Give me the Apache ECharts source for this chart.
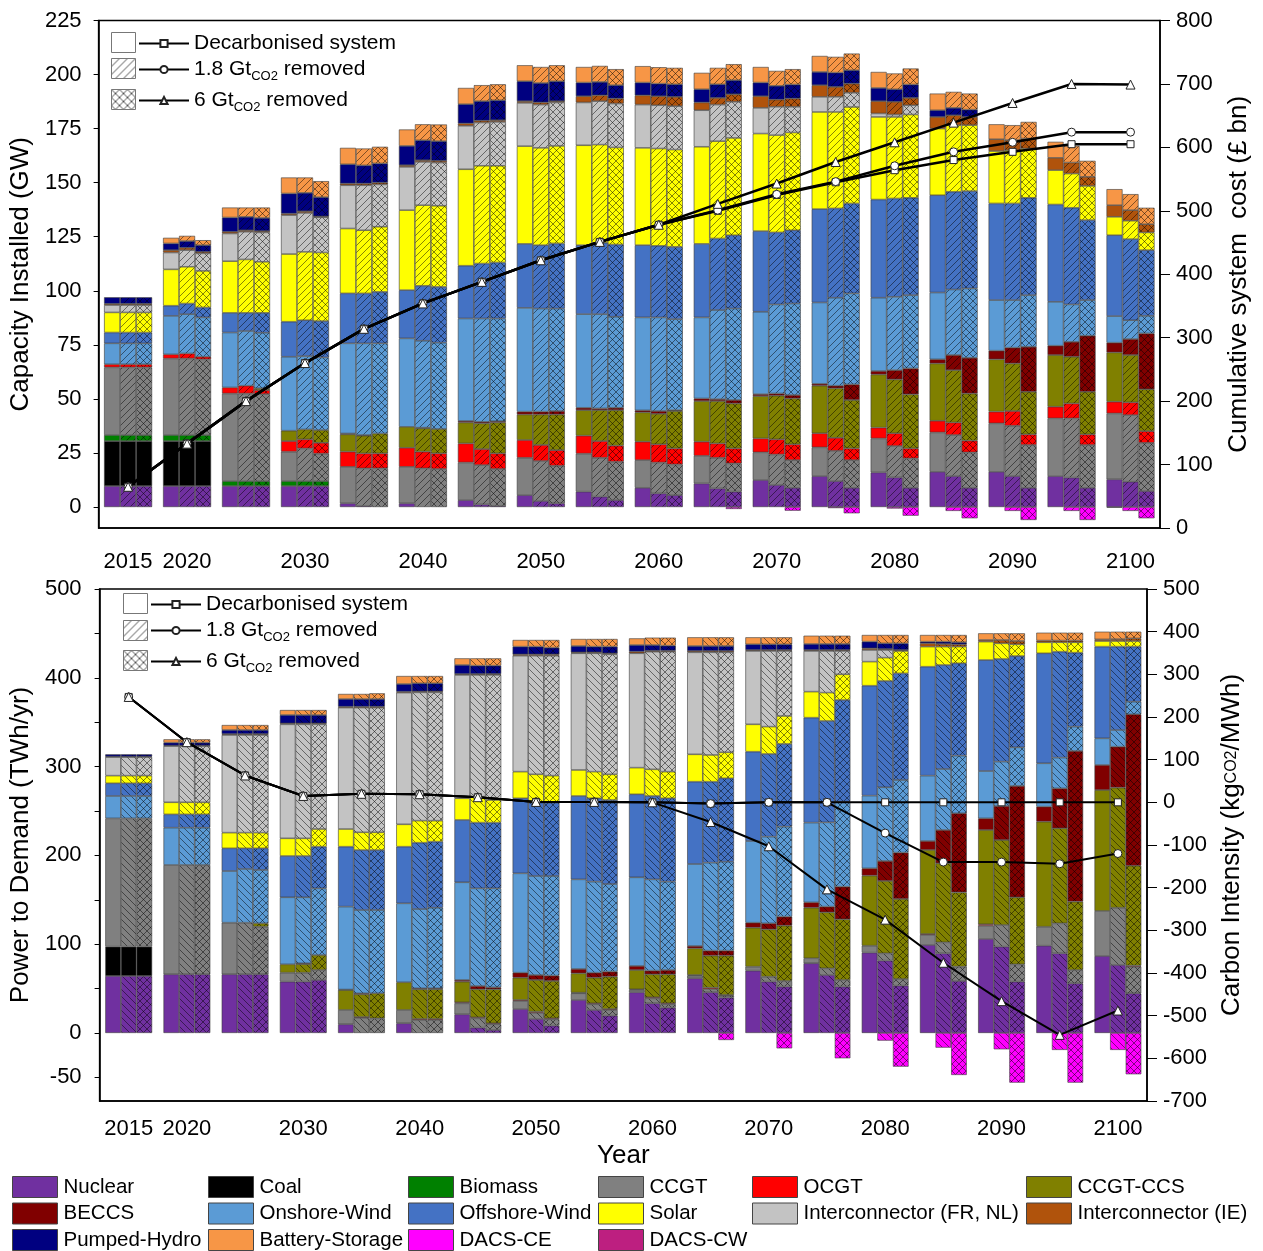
<!DOCTYPE html>
<html>
<head>
<meta charset="utf-8">
<script src="https://cdn.jsdelivr.net/npm/echarts@6/dist/echarts.min.js"></script>
<style>
  html, body { margin: 0; padding: 0; background: #fff; }
  #chart { width: 1263px; height: 1251px; }
</style>
</head>
<body>
<div id="chart"></div>
<script>
var years = ['2015', '2020', '2025', '2030', '2035', '2040', '2045', '2050', '2055', '2060',
  '2065', '2070', '2075', '2080', '2085', '2090', '2095', '2100'];
var techs = ['Nuclear', 'Coal', 'Biomass', 'CCGT', 'OCGT', 'CCGT-CCS', 'BECCS', 'Onshore-Wind',
  'Offshore-Wind', 'Solar', 'Interconnector (FR, NL)', 'Interconnector (IE)', 'Pumped-Hydro',
  'Battery-Storage', 'DACS-CE', 'DACS-CW'];
var colors = ['#7030A0', '#000000', '#008000', '#808080', '#FF0000', '#808000', '#800000', '#5B9BD5',
  '#4472C4', '#FFFF00', '#C3C3C3', '#B0530C', '#000080', '#F79646', '#FF00FF', '#BD1F80'];
var scenarios = ['Decarbonised system', '1.8 GtCO2 removed', '6 GtCO2 removed'];

// tick labels
var capTicks = [0, 25, 50, 75, 100, 125, 150, 175, 200, 225];
var powLabels = [-50, 0, 100, 200, 300, 400, 500];
var powTicks = [-50, 0, 50, 100, 150, 200, 250, 300, 350, 400, 450, 500];

// installed capacity (GW); rows: decarbonised, 1.8 Gt, 6 Gt
var capNuclear = [
  [9.7, 9.7, 9.7, 9.7, 1.7, 1.7, 3.2, 5.5, 7.1, 8.9, 10.9, 12.5, 14.3, 16, 16.3, 16.3, 14.3, 12.8],
  [9.7, 9.7, 9.7, 9.7, 0.5, 0, 1.2, 2.8, 4.8, 6.3, 8.6, 10.2, 12, 13.7, 14.3, 14.3, 13.6, 11.7],
  [9.7, 9.7, 9.7, 9.7, 0, 0, 0.5, 1.7, 3.2, 5.5, 7.1, 8.9, 8.9, 8.9, 8.9, 8.9, 8.9, 7.4]];
var capCoal = [
  [20.8, 20.8, 0, 0, 0, 0, 0, 0, 0, 0, 0, 0, 0, 0, 0, 0, 0, 0],
  [20.8, 20.8, 0, 0, 0, 0, 0, 0, 0, 0, 0, 0, 0, 0, 0, 0, 0, 0],
  [20.8, 20.8, 0, 0, 0, 0, 0, 0, 0, 0, 0, 0, 0, 0, 0, 0, 0, 0]];
var capBiomass = [
  [2.8, 2.8, 2.3, 2.3, 0, 0, 0, 0, 0, 0, 0, 0, 0, 0, 0, 0, 0, 0],
  [2.8, 2.8, 2.3, 2.3, 0, 0, 0, 0, 0, 0, 0, 0, 0, 0, 0, 0, 0, 0],
  [2.8, 2.8, 2.3, 2.3, 0, 0, 0, 0, 0, 0, 0, 0, 0, 0, 0, 0, 0, 0]];
var capCCGT = [
  [31.3, 35.4, 40.5, 13.6, 16.9, 16.9, 17.4, 17.3, 17.6, 12.8, 12.8, 12.8, 13.3, 15.7, 18.2, 22.4, 26.7, 30.5],
  [31.3, 35.4, 40.5, 15.1, 17.4, 17.9, 18.2, 18.5, 18, 14.3, 14.2, 14.1, 14, 14.5, 19, 23.3, 27.4, 30.8],
  [31.3, 35, 40.2, 12.7, 17.9, 17.6, 17.1, 17.4, 17.8, 14.2, 13.1, 12.8, 12.8, 13.6, 16.4, 19.8, 19.8, 22.3]];
var capOCGT = [
  [1.4, 1.9, 2.8, 4.9, 7, 8.8, 8.8, 8.2, 8.3, 8.5, 6.5, 6.4, 6.5, 5, 5.4, 5.4, 5.4, 5.4],
  [1.4, 2.3, 3.6, 4.2, 6.9, 7.7, 7.4, 7.4, 7.7, 8.4, 6.6, 7, 6, 5.9, 5.8, 6.8, 6.9, 5.9],
  [1.4, 1.2, 1.9, 5, 6.9, 7.2, 7.2, 7.2, 7.4, 7.4, 6.9, 7.3, 5.4, 4.6, 5.4, 4.9, 4.9, 5.4]];
var capCCS = [
  [0, 0, 0, 4.8, 8, 9.7, 9.7, 11.8, 11.8, 13.6, 18.8, 19.6, 22, 24.6, 26.5, 24.2, 23.9, 22.8],
  [0, 0, 0, 4.6, 8.2, 10.8, 11.9, 14.1, 14.3, 14.1, 19.6, 20.2, 22.9, 24.9, 24.2, 22, 21.6, 21.9],
  [0, 0, 0.8, 5.9, 9.2, 11.3, 14.3, 16.5, 16.4, 17.3, 20.8, 21.2, 22.4, 25, 21.8, 19.7, 19.7, 19.4]];
var capBECCS = [
  [0, 0, 0, 0, 0.4, 0, 0.7, 1.3, 1.1, 0.9, 1.2, 0.9, 0.9, 1.6, 1.9, 4, 4.3, 4.5],
  [0, 0, 0, 0, 0.3, 0.3, 0.7, 1.3, 0.8, 1.3, 0.9, 1, 1.2, 4.3, 7, 7.3, 6.9, 7.4],
  [0, 0, 0, 0, 0, 0, 0.6, 1.6, 1.1, 0.4, 1.6, 1.6, 7.2, 12, 16.5, 20.8, 25.9, 25.8]];
var capOnshore = [
  [9.7, 17.8, 25.4, 34.2, 41.7, 40.9, 47.4, 48, 43.3, 43, 37.5, 38.1, 37.6, 33.9, 30.9, 23.4, 20.3, 12.3],
  [9.7, 18.2, 25.3, 33.9, 42.4, 40.2, 47.8, 47.7, 43.6, 43.3, 41.2, 41.2, 40.7, 33.9, 30.3, 22, 17.3, 8.7],
  [9.7, 18.2, 25.7, 33.6, 41.7, 39.9, 47.5, 47.4, 42.1, 42.1, 42.3, 42.3, 42.1, 33.9, 32.1, 23.9, 16.5, 8.1]];
var capOffshore = [
  [5, 4.7, 9.1, 16.2, 23.1, 22.3, 24.4, 29.6, 31.9, 33.4, 34, 37.3, 43.2, 45.4, 45, 44.7, 45, 37.4],
  [5, 4.9, 8.4, 16.6, 23.1, 25.4, 25.4, 29.3, 33, 33.1, 33.1, 33.3, 41.3, 45.5, 45.2, 44.7, 44.7, 37.5],
  [5, 4.6, 9.2, 16.8, 23.8, 25.8, 25.9, 30.1, 33.4, 33.4, 33.9, 33.9, 41.6, 45, 45, 45, 37, 30.4]];
var capSolar = [
  [9.3, 16.8, 23.9, 31.3, 30, 37, 44.6, 45.2, 46.2, 45, 44.9, 45.1, 44.9, 38.2, 30.8, 24.2, 15.9, 8.5],
  [9.3, 17, 24.7, 31.6, 29.2, 37.3, 45.2, 45, 45.4, 45, 45, 45, 44.6, 37.7, 30.8, 24.6, 15.8, 8.5],
  [9.3, 16.9, 23.6, 31.7, 30.1, 37.5, 44.7, 45.1, 44.9, 45, 45, 45.2, 44.6, 38.5, 30.5, 22.8, 15.8, 8.2]];
var capIntFRNL = [
  [3.4, 7.8, 12.8, 18, 20, 20, 20.1, 20, 19.8, 20, 16.9, 11.9, 7, 1.6, 0, 0, 0, 0],
  [3.4, 7.7, 12.8, 18, 20.8, 20, 20, 20, 20.1, 20, 16.9, 13.1, 7, 1.1, 0, 0, 0, 0],
  [3.4, 8.1, 13.6, 16.3, 19.6, 20, 20.3, 20.1, 20.3, 20.1, 16.7, 11.9, 6.6, 4.3, 0, 0, 0, 0]];
var capIntIE = [
  [0.6, 1.1, 0.8, 0.7, 0.8, 0.8, 1.1, 0.8, 2.9, 4.3, 3.6, 5.4, 5.4, 5.7, 5.4, 5.5, 5.7, 5.4],
  [0.6, 1.1, 0.7, 0.8, 0.8, 0.8, 0.9, 1, 2.7, 4.2, 3.1, 3.3, 4.6, 5.9, 4.6, 4.7, 5.1, 4.9],
  [0.6, 0.7, 0.6, 0.4, 0.8, 0.8, 0.8, 0.6, 2.3, 4.3, 3.5, 3.8, 4.2, 3.4, 3.8, 4.6, 4.2, 3.8]];
var capPumped = [
  [3, 3.1, 6.6, 9.3, 8.9, 8.9, 8.9, 9.2, 6.3, 5.9, 6.1, 6.3, 6.1, 6.1, 3.1, 0, 0, 0],
  [3, 3.1, 6.2, 8.5, 8.4, 9.2, 9, 9, 6.2, 5.8, 6.3, 6.4, 6.6, 5.8, 3.4, 0, 0, 0],
  [3, 3.1, 6.1, 8.9, 8.9, 9.1, 9.2, 9.2, 6.2, 5.8, 6.5, 6.5, 6.2, 6.2, 3.4, 0, 0, 0]];
var capBattery = [
  [0, 2.6, 4.6, 7.4, 7.6, 7.6, 7.5, 7.4, 7.2, 7.6, 7.6, 7.2, 7.4, 7.4, 7.7, 6.9, 7.4, 7.4],
  [0, 2.4, 4.3, 7.1, 7.8, 7.4, 7.4, 7.4, 7.4, 7.6, 7.6, 6.9, 7.3, 7.3, 7.4, 6.9, 7.7, 7.4],
  [0, 2.3, 4.8, 7.4, 7.7, 7.7, 7.4, 7.4, 7.4, 7.6, 7.4, 7.1, 7.7, 7.4, 7.4, 7.7, 7.4, 7.6]];
var capDACSCE = [
  [0, 0, 0, 0, 0, 0, 0, 0, 0, 0, 0, 0, 0, 0, 0, 0, 0, -0.3],
  [0, 0, 0, 0, 0, 0, 0, 0, 0, 0, 0, 0, -0.5, -0.7, -1.8, -1.8, -1.8, -1.8],
  [0, 0, 0, 0, 0, 0, 0, 0, 0, 0, -0.9, -1.7, -2.9, -4, -5.2, -6, -6, -5.2]];
var capDACSCW = [
  [0, 0, 0, 0, 0, 0, 0, 0, 0, 0, 0, 0, 0, 0, 0, 0, 0, 0],
  [0, 0, 0, 0, 0, 0, 0, 0, 0, 0, 0, 0, 0, 0, 0, 0, 0, 0],
  [0, 0, 0, 0, 0, 0, 0, 0, 0, 0, 0, 0, 0, 0, 0, 0, 0, 0]];

// cumulative system cost (£ bn)
var costDecarb = [65, 133, 200, 260, 314, 354, 388, 422, 451, 478, 500, 525, 545, 564, 580, 593, 605, 605];
var cost18 = [65, 133, 200, 260, 314, 354, 388, 422, 451, 478, 501, 526, 546, 571, 593, 608, 624, 624];
var cost6 = [65, 133, 200, 260, 314, 354, 388, 422, 451, 478, 511, 543, 577, 608, 639, 670, 700, 699];

// power to demand (TWh/yr); rows: decarbonised, 1.8 Gt, 6 Gt
var powNuclear = [
  [64.2, 66.1, 66.1, 57.8, 9.8, 10.9, 21, 27, 37.2, 45.8, 61.6, 70.2, 78.5, 90.5, 99.1, 105.9, 98.3, 86.7],
  [64.2, 66.1, 66.1, 57.8, 0, 0, 6, 15.8, 25.9, 33.4, 45.8, 57.8, 65.3, 81.5, 89.7, 97.2, 89.7, 76.6],
  [64.2, 66.1, 66.1, 59.7, 0, 0, 3.4, 8.3, 19.5, 28.5, 39.8, 52.2, 52.2, 53.3, 58.6, 57.8, 55.9, 44.7]];
var powCoal = [
  [33, 0, 0, 0, 0, 0, 0, 0, 0, 0, 0, 0, 0, 0, 0, 0, 0, 0],
  [33, 0, 0, 0, 0, 0, 0, 0, 0, 0, 0, 0, 0, 0, 0, 0, 0, 0],
  [33, 0, 0, 0, 0, 0, 0, 0, 0, 0, 0, 0, 0, 0, 0, 0, 0, 0]];
var powBiomass = [
  [0, 0, 0, 0, 0, 0, 0, 0, 0, 0, 0, 0, 0, 0, 0, 0, 0, 0],
  [0, 0, 0, 0, 0, 0, 0, 0, 0, 0, 0, 0, 0, 0, 0, 0, 0, 0],
  [0, 0, 0, 0, 0, 0, 0, 0, 0, 0, 0, 0, 0, 0, 0, 0, 0, 0]];
var powCCGT = [
  [144.5, 123.1, 58.1, 10.1, 16.1, 15, 12.4, 9, 7.5, 2.6, 3, 4.5, 5.6, 7.8, 11.3, 15, 21.4, 50.7],
  [144.5, 123.1, 58.1, 10.1, 17, 14.6, 10.5, 7.1, 6.4, 5.6, 3.7, 5.6, 7.5, 8.2, 12.4, 24.4, 33.8, 64.5],
  [144.5, 123.1, 53.6, 11.2, 16.5, 14.6, 6.4, 7.1, 6.4, 3.8, 2.2, 6.4, 7.5, 7.5, 16.1, 19.5, 15, 30]];
var powOCGT = [
  [0, 0, 0, 0, 0, 0, 1.1, 1.2, 0.7, 0.8, 0.7, 0, 0, 0, 1.1, 1.5, 0, 0],
  [0, 0, 0, 0, 1, 1.2, 1.1, 1.1, 1.1, 1.2, 1.5, 0, 0, 0, 0, 0, 0, 0],
  [0, 0, 0, 0, 0, 1.2, 1.1, 1.1, 1.1, 1.1, 0.8, 0, 0, 0, 0, 0, 0, 1.1]];
var powCCS = [
  [0, 0, 0, 9.4, 22.5, 31.2, 23.3, 25.1, 21.8, 21.7, 30, 43.9, 57, 78.9, 94.6, 106.2, 118.3, 136.2],
  [0, 0, 0, 9.6, 25.5, 33.4, 31.6, 35.7, 28.9, 25.9, 36.1, 53.3, 63.1, 81.5, 89, 95.7, 107, 135.2],
  [0, 0, 3.8, 16.9, 28.2, 33.4, 38.3, 42.1, 36.4, 32.7, 44.3, 62.3, 68.3, 90.1, 83.7, 75.5, 77, 112.6]];
var powBECCS = [
  [0, 0, 0, 0, 0.5, 0, 1.9, 5.6, 4.9, 4.6, 2.7, 5.6, 6, 8.2, 10.1, 13.1, 16.9, 28.2],
  [0, 0, 0, 1, 1.1, 1.1, 3.7, 5.6, 5.6, 4.1, 5.6, 6.8, 6.4, 22.5, 37.5, 38.3, 45, 46.1],
  [0, 0, 0, 0, 0, 1.1, 2.2, 6, 5.7, 4.8, 5.6, 10.1, 36.8, 52.2, 89, 125.4, 169.7, 170.5]];
var powOnshore = [
  [25.2, 42, 58.2, 75.5, 93.4, 88.9, 110, 111.9, 100.9, 99.8, 92.3, 92, 89.8, 81.9, 73.6, 53.3, 48.8, 30],
  [25.2, 42, 60.5, 74.3, 93.9, 89.3, 110, 111.5, 102.5, 102.8, 99.1, 97.6, 94.9, 83, 68.7, 50, 34.6, 18.8],
  [25.2, 42, 60.1, 75.1, 93.8, 90.8, 111.5, 112.2, 98.7, 99.5, 100.2, 101.4, 95.7, 81.8, 64.9, 43.5, 27.4, 14.2]];
var powOffshore = [
  [14.3, 15, 25.6, 46.5, 67.5, 63.8, 70.2, 84.5, 93.9, 93.5, 92.7, 100.6, 118.2, 123.8, 122.7, 125, 123.9, 103.3],
  [14.3, 15, 23.3, 46.5, 67.5, 74.7, 74, 82.6, 93.9, 93.9, 91.2, 93.1, 114.2, 119.7, 117.1, 115.6, 119.3, 93.9],
  [14.3, 15, 24.4, 46.9, 67.5, 74.4, 74, 82.6, 94.6, 93.9, 93.9, 93.1, 114.5, 120.1, 104, 102.8, 83.3, 62]];
var powSolar = [
  [8.6, 13.6, 17.6, 19.9, 19.9, 25.2, 24.4, 30, 29.3, 30, 30.8, 30.8, 29.3, 27.1, 22.6, 20.7, 12.4, 6.3],
  [8.6, 13.6, 17.6, 19.9, 20, 24.8, 29.3, 31.9, 30, 30, 30.1, 30.8, 31.9, 26.3, 20.7, 17.6, 10.6, 6.3],
  [8.6, 13.6, 17.6, 19.9, 20, 23.6, 25.5, 30.4, 28.9, 30, 29.3, 31.5, 28.9, 25.2, 18.8, 13.2, 11.7, 6.3]];
var powIntFRNL = [
  [21, 63.4, 110, 128.4, 136.7, 148.3, 138.9, 130.6, 131.4, 128.8, 114.9, 82.6, 45.8, 13.1, 0, 0, 0, 0],
  [21, 63.4, 110, 128.4, 140.4, 144.5, 137, 133.6, 133.3, 132.5, 115.6, 85.2, 46.9, 8.6, 0, 0, 0, 0],
  [21, 63.4, 110, 117.9, 140.4, 144.5, 140.8, 135.1, 135.1, 135.1, 112.6, 73.2, 26.3, 0, 0, 0, 0, 0]];
var powIntIE = [
  [0.5, 0.5, 1.1, 1.1, 1.1, 1.1, 1.1, 1.5, 1.1, 1.9, 1.5, 1.1, 1.1, 1.9, 3.7, 1.9, 1.9, 1.9],
  [0.5, 0.5, 1.1, 1.1, 1.1, 1.1, 1.1, 1.5, 1.1, 1.1, 1.5, 1.1, 1.1, 1.1, 3, 3.8, 1.9, 2.2],
  [0.5, 0.5, 1.1, 1.1, 1.1, 1.1, 1.1, 1.5, 1.1, 1.1, 1.5, 1.1, 1.1, 1.1, 2.5, 3.8, 1.9, 3]];
var powPumped = [
  [2.5, 3.3, 4.5, 9.4, 8.6, 8.6, 10.1, 8.7, 7.1, 7.4, 5.6, 6.4, 6.8, 7.5, 1.9, 0, 0, 0],
  [2.5, 3.3, 4.5, 9.4, 8.6, 9.1, 9.4, 8.7, 6.4, 6.4, 5.6, 6.4, 6.8, 6.4, 2.6, 0, 0, 0],
  [2.5, 3.3, 4.5, 9.4, 8.6, 9.1, 9.4, 7.5, 7.6, 5.7, 5.6, 6.4, 6.8, 7.5, 2.4, 0, 0, 0]];
var powBattery = [
  [0, 3.7, 5.6, 5.6, 5.7, 9, 7.5, 7.5, 7.9, 7.5, 9.8, 7.9, 9.3, 7.5, 7.5, 7.5, 8.9, 8.6],
  [0, 3.7, 5.6, 5.6, 5.7, 8.2, 8.2, 7.5, 8.6, 8.3, 9.8, 7.9, 9.3, 9.4, 7.5, 7.5, 8.9, 8.3],
  [0, 3.7, 5.6, 5.6, 6.4, 8.2, 8.2, 8.7, 8.6, 9, 9.8, 7.9, 9.3, 9.4, 8.2, 8.6, 8.9, 7.5]];
var powDACSCE = [
  [0, 0, 0, 0, 0, 0, 0, 0, 0, 0, 0, 0, 0, 0, 0, 0, 0, 0],
  [0, 0, 0, 0, 0, 0, 0, 0, 0, 0, 0, 0, 0, -8.6, -16.5, -18.4, -19.1, -19.1],
  [0, 0, 0, 0, 0, 0, 0, 0, 0, 0, -7.9, -17.3, -28.5, -37.9, -47.3, -55.9, -55.9, -46.5]];
var powDACSCW = [
  [0, 0, 0, 0, 0, 0, 0, 0, 0, 0, 0, 0, 0, 0, 0, 0, 0, 0],
  [0, 0, 0, 0, 0, 0, 0, 0, 0, 0, 0, 0, 0, 0, 0, 0, 0, 0],
  [0, 0, 0, 0, 0, 0, 0, 0, 0, 0, 0, 0, 0, 0, 0, 0, 0, 0]];

// carbon intensity (kgCO2/MWh)
var ciDecarb = [247, 141, 63, 15, 20, 19, 12, 1, 1, 0, -3, 0, 0, 0, 0, 0, 0, 0];
var ci18 = [247, 141, 63, 15, 20, 19, 12, 1, 1, 0, -3, 0, 0, -72, -140, -140, -144, -120];
var ci6 = [247, 141, 63, 15, 20, 19, 12, 1, 1, 0, -46, -103, -204, -275, -376, -466, -545, -488];

var capData = [capNuclear, capCoal, capBiomass, capCCGT, capOCGT, capCCS, capBECCS, capOnshore,
  capOffshore, capSolar, capIntFRNL, capIntIE, capPumped, capBattery, capDACSCE, capDACSCW];
var powData = [powNuclear, powCoal, powBiomass, powCCGT, powOCGT, powCCS, powBECCS, powOnshore,
  powOffshore, powSolar, powIntFRNL, powIntIE, powPumped, powBattery, powDACSCE, powDACSCW];

var FONT = '"Liberation Sans", Arial, sans-serif';

// hatch fill: '/' , '\\' or 'x'
function pattern(color, kind, size, alpha) {
  var n = size || 7;
  var c = document.createElement('canvas');
  c.width = c.height = n;
  var g = c.getContext('2d');
  g.fillStyle = color;
  g.fillRect(0, 0, n, n);
  g.strokeStyle = 'rgba(0,0,0,' + (alpha || 0.6) + ')';
  g.lineWidth = 0.8;
  g.beginPath();
  [-n, 0, n].forEach(function (k) {
    if (kind !== '\\') { g.moveTo(k, n); g.lineTo(k + n, 0); }
    if (kind !== '/') { g.moveTo(k, 0); g.lineTo(k + n, n); }
  });
  g.stroke();
  return { image: c, repeat: 'repeat' };
}

var series = [];
[capData, powData].forEach(function (panel, p) {
  panel.forEach(function (rows, t) {
    rows.forEach(function (vals, s) {
      var fill = colors[t];
      if (s === 1) fill = pattern(colors[t], p ? '\\' : '/');
      if (s === 2) fill = pattern(colors[t], 'x');
      series.push({
        name: s === 0 ? techs[t] : techs[t] + ' / ' + scenarios[s],
        type: 'bar',
        xAxisIndex: p,
        yAxisIndex: 2 * p,
        stack: 'p' + p + 's' + s,
        barWidth: p ? 15.6 : 16,
        barGap: '0%',
        data: vals.map(function (v) { return v === 0 ? '-' : v; }),
        itemStyle: { color: fill, borderColor: '#3a3a3a', borderWidth: 0.6 },
        emphasis: { disabled: true },
        silent: true
      });
    });
  });
});

var marks = [['rect', 7], ['circle', 8], ['triangle', 9]];
[[costDecarb, cost18, cost6], [ciDecarb, ci18, ci6]].forEach(function (sets, p) {
  sets.forEach(function (vals, s) {
    series.push({
      name: scenarios[s],
      type: 'line',
      xAxisIndex: p,
      yAxisIndex: 2 * p + 1,
      data: vals,
      symbol: marks[s][0],
      symbolSize: marks[s][1],
      showAllSymbol: true,
      itemStyle: { color: '#fff', borderColor: '#222', borderWidth: 1 },
      lineStyle: { color: '#000', width: p ? 2 : 2.5 },
      emphasis: { disabled: true },
      z: 5
    });
  });
});

// legends
var legends = [];
var subFmt = function (n) { return n.replace('CO2', '{sub|CO2}'); };
[[138, [33, 59, 90]], [150, [594, 620, 651]]].forEach(function (cfg) {
  cfg[1].forEach(function (y, s) {
    legends.push({
      data: [scenarios[s]],
      left: cfg[0], top: y,
      padding: 0, itemWidth: 50, itemHeight: 9,
      selectedMode: false,
      formatter: subFmt,
      textStyle: {
        fontSize: 21, fontFamily: FONT, color: '#000',
        rich: { sub: { fontSize: 13, fontFamily: FONT, color: '#000', padding: [13, 0, 0, 0] } }
      }
    });
  });
});
var techCols = [
  ['Nuclear', 'BECCS', 'Pumped-Hydro'],
  ['Coal', 'Onshore-Wind', 'Battery-Storage'],
  ['Biomass', 'Offshore-Wind', 'DACS-CE'],
  ['CCGT', 'Solar', 'DACS-CW'],
  ['OCGT', 'Interconnector (FR, NL)'],
  ['CCGT-CCS', 'Interconnector (IE)']];
var colLeft = [12, 208, 408, 598, 752, 1026];
techCols.forEach(function (col, i) {
  legends.push({
    data: col, orient: 'vertical', left: colLeft[i], top: 1176,
    padding: 0, itemWidth: 45, itemHeight: 21, itemGap: 4.5,
    icon: 'rect', selectedMode: false,
    itemStyle: { borderColor: '#444', borderWidth: 1 },
    textStyle: { fontSize: 20.5, fontFamily: FONT, color: '#000', padding: [0, 0, 0, 1] }
  });
});

// scenario boxes in the panel legends
var boxes = [];
[[111, [32, 58, 89]], [123, [593, 620, 650]]].forEach(function (cfg) {
  var fills = ['#fff', pattern('#fff', '/', 8, 0.85), pattern('#fff', 'x', 8, 0.85)];
  cfg[1].forEach(function (y, s) {
    boxes.push({
      type: 'rect', left: cfg[0], top: y, z: 20,
      shape: { width: 24, height: 20 },
      style: { fill: fills[s], stroke: '#777', lineWidth: 1 }
    });
  });
});

var showLabel = function (i, v) { return v === '2015' || v === '2020' || (+v) % 10 === 0; };
var axisText = { fontSize: 22, fontFamily: FONT, color: '#000' };
var nameText = { fontSize: 26, fontFamily: FONT, color: '#000',
  rich: { sub: { fontSize: 16, fontFamily: FONT, color: '#000' } } };
var blackLine = { show: true, onZero: false, lineStyle: { color: '#000', width: 1.5 } };

var option = {
  animation: false,
  backgroundColor: '#fff',
  textStyle: { fontFamily: FONT, color: '#000' },
  grid: [
    { left: 97, top: 20.5, width: 1063, height: 507.5, show: true, borderColor: '#000', borderWidth: 1.5 },
    { left: 95, top: 589, width: 1052, height: 512, show: true, borderColor: '#000', borderWidth: 1.5 }
  ],
  xAxis: [
    { type: 'category', gridIndex: 0, data: years, axisLine: blackLine,
      axisTick: { alignWithLabel: true, interval: showLabel, length: 9, lineStyle: { color: '#000', width: 1.2 } },
      axisLabel: Object.assign({ interval: showLabel, margin: 23 }, axisText) },
    { type: 'category', gridIndex: 1, data: years, axisLine: blackLine,
      axisTick: { alignWithLabel: true, interval: 0, length: 8, lineStyle: { color: '#000', width: 1.2 } },
      axisLabel: Object.assign({ interval: showLabel, margin: 17 }, axisText),
      name: 'Year', nameLocation: 'middle', nameGap: 42, nameTextStyle: nameText }
  ],
  yAxis: [
    { type: 'value', gridIndex: 0, min: -9.7, max: 225, axisLine: blackLine,
      axisTick: { show: true, length: 5, customValues: capTicks, lineStyle: { color: '#000' } },
      axisLabel: Object.assign({ customValues: capTicks, margin: 17 }, axisText),
      splitLine: { show: false },
      name: 'Capacity Installed (GW)', nameLocation: 'middle', nameGap: 62, nameRotate: 90, nameTextStyle: nameText },
    { type: 'value', gridIndex: 0, position: 'right', min: 0, max: 800, interval: 100, axisLine: blackLine,
      axisTick: { show: true, length: 10, lineStyle: { color: '#000' } },
      axisLabel: Object.assign({ margin: 16 }, axisText),
      splitLine: { show: false },
      name: 'Cumulative system  cost (£ bn)', nameLocation: 'middle', nameGap: 66, nameRotate: 90, nameTextStyle: nameText },
    { type: 'value', gridIndex: 1, min: -76.6, max: 500, axisLine: blackLine,
      axisTick: { show: true, length: 5, customValues: powTicks, lineStyle: { color: '#000' } },
      axisLabel: Object.assign({ customValues: powLabels, margin: 18 }, axisText),
      splitLine: { show: false },
      name: 'Power to Demand (TWh/yr)', nameLocation: 'middle', nameGap: 60, nameRotate: 90, nameTextStyle: nameText },
    { type: 'value', gridIndex: 1, position: 'right', min: -700, max: 500, interval: 100, axisLine: blackLine,
      axisTick: { show: true, length: 10, lineStyle: { color: '#000' } },
      axisLabel: Object.assign({ margin: 16 }, axisText),
      splitLine: { show: false },
      name: 'Carbon Intensity (kg{sub|CO2}/MWh)', nameLocation: 'middle', nameGap: 72, nameRotate: 90, nameTextStyle: nameText }
  ],
  legend: legends,
  graphic: boxes,
  series: series
};

var chart = echarts.init(document.getElementById('chart'));
chart.setOption(option);
</script>
</body>
</html>
